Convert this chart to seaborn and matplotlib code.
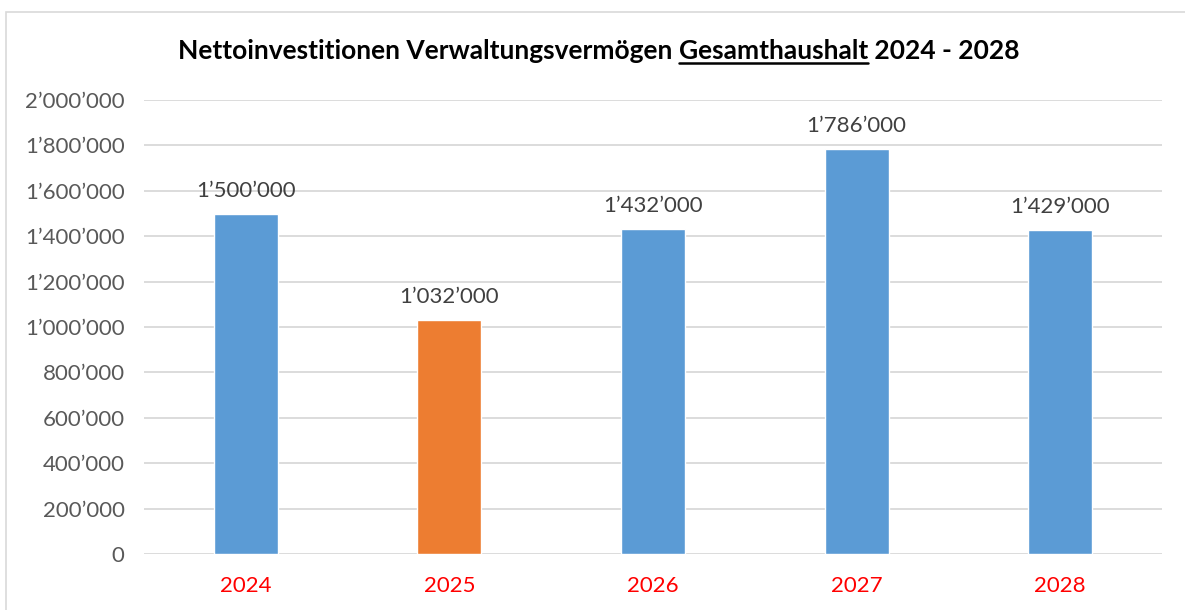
import matplotlib
matplotlib.use("Agg")
import matplotlib.pyplot as plt
import seaborn as sns
import pandas as pd
from matplotlib.patches import Rectangle
from matplotlib.lines import Line2D
from matplotlib.ticker import FuncFormatter

years = ["2024", "2025", "2026", "2027", "2028"]
values = [1500000, 1032000, 1432000, 1786000, 1429000]
bar_colors = ["#5B9BD5", "#ED7D31", "#5B9BD5", "#5B9BD5", "#5B9BD5"]
yticks = [0, 200000, 400000, 600000, 800000, 1000000, 1200000, 1400000, 1600000, 1800000, 2000000]
title_parts = ["Nettoinvestitionen Verwaltungsvermögen ", "Gesamthaushalt", " 2024 - 2028"]

sns.set_theme(style="white")
plt.rcParams['font.family'] = ['Lato', 'DejaVu Sans']

def fmt(v):
    return f"{int(v):,}".replace(",", "\u2019")

df = pd.DataFrame({"year": years, "value": values})

fig = plt.figure(figsize=(11.85, 6.1), dpi=100)
ax = fig.add_axes([144/1185, 56/610, (1162-144)/1185, (554-100)/610])

sns.barplot(data=df, x="year", y="value", hue="year", palette=bar_colors,
            width=0.315, ax=ax, legend=False, saturation=1, zorder=3)

ax.set_xlim(-0.5, 4.5)
ax.set_ylim(0, 2000000)
ax.set_yticks(yticks)
ax.yaxis.set_major_formatter(FuncFormatter(lambda v, p: fmt(v)))
ax.grid(axis="y", color="#D9D9D9", linewidth=1.3, zorder=0)
ax.grid(axis="x", visible=False)
for s in ax.spines.values():
    s.set_visible(False)
ax.set_xlabel("")
ax.set_ylabel("")
ax.tick_params(axis="y", length=0, pad=14, labelsize=16, labelcolor="#595959")
ax.tick_params(axis="x", length=0, pad=16, labelsize=16, labelcolor="#FF0000")

for i, v in enumerate(values):
    ax.annotate(fmt(v), (i, v), xytext=(0, 9), textcoords="offset points",
                ha="center", va="bottom", fontsize=16, color="#404040")

# border
fig.patches.append(Rectangle((6/1185, -0.05), 1.2, (610-12)/610 + 0.05,
                             transform=fig.transFigure, fill=False,
                             edgecolor="#D9D9D9", linewidth=1.2))

# title in parts with underline
fig.canvas.draw()
r = fig.canvas.get_renderer()
tsize = 19
def width_of(s):
    t = fig.text(0, 0, s, fontsize=tsize, fontweight="bold", va="baseline")
    w = t.get_window_extent(r).width
    t.remove()
    return w
total = width_of("".join(title_parts))
w0 = width_of(title_parts[0] + "|") - width_of("|")
w01 = width_of(title_parts[0] + title_parts[1] + "|") - width_of("|")
w1 = width_of(title_parts[1])
W, H = fig.bbox.width, fig.bbox.height
cx = 599
x0 = cx - total / 2
base_y = H - 59
xs = [x0, x0 + w0, x0 + w01]
for t, x in zip(title_parts, xs):
    fig.text(x / W, base_y / H, t, fontsize=tsize, fontweight="bold",
             color="#000000", va="baseline", ha="left")
fig.lines.append(Line2D([xs[1] / W, (xs[1] + w1) / W], [(base_y - 4) / H] * 2,
                        transform=fig.transFigure, color="black", linewidth=1.8))

fig.savefig("out.png", dpi=100)
